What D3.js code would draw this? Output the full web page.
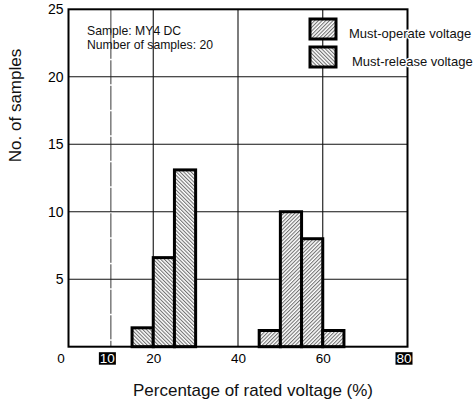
<!DOCTYPE html>
<html>
<head>
<meta charset="utf-8">
<script src="https://cdn.jsdelivr.net/npm/d3@7"></script>
<style>
  html, body { margin: 0; padding: 0; background: #fff; }
  svg { display: block; font-family: "Liberation Sans", Arial, Helvetica, sans-serif; }
</style>
</head>
<body>
<svg id="chart" width="475" height="399"></svg>
<script>
// ---- data ----
const binWidth = 5;
const releaseBins = [15, 20, 25];
const releaseCounts = [1.4, 6.6, 13.1];
const operateBins = [45, 50, 55, 60];
const operateCounts = [1.2, 10, 8, 1.2];
const xTicks = [0, 10, 20, 40, 60, 80];
const xBoxedTicks = [10, 80];
const yTicks = [5, 10, 15, 20, 25];
const xGrid = [10, 20, 40, 60];
const yGrid = [5, 10, 15, 20];
const legendLabels = ["Must-operate voltage", "Must-release voltage"];
const noteLines = ["Sample: MY4 DC", "Number of samples: 20"];
const xTitle = "Percentage of rated voltage (%)";
const yTitle = "No. of samples";

const svg = d3.select("#chart");
const L = 68.5, R = 407.5, T = 9.3, B = 346.7;
const x = d3.scaleLinear().domain([0, 80]).range([L, R]);
const y = d3.scaleLinear().domain([0, 25]).range([B, T]);

// patterns
const defs = svg.append("defs");
function hatch(id, angle) {
  const p = defs.append("pattern").attr("id", id)
    .attr("patternUnits", "userSpaceOnUse")
    .attr("width", 2.6).attr("height", 10)
    .attr("patternTransform", `rotate(${angle})`);
  p.append("rect").attr("width", 2.6).attr("height", 10).attr("fill", "#fff");
  p.append("line").attr("x1", 0.6).attr("x2", 0.6).attr("y1", 0).attr("y2", 10)
    .attr("stroke", "#333").attr("stroke-width", 0.8);
}
hatch("hOperate", 45);
hatch("hRelease", -45);

// grid
svg.append("g").selectAll("line").data(yGrid).join("line")
  .attr("x1", L).attr("x2", R).attr("y1", d => y(d)).attr("y2", d => y(d))
  .attr("stroke", "#111").attr("stroke-width", 1.1);
svg.append("g").selectAll("line").data(xGrid).join("line")
  .attr("x1", d => x(d)).attr("x2", d => x(d)).attr("y1", T).attr("y2", B)
  .attr("stroke", d => d === 10 ? "#222" : "#111")
  .attr("stroke-width", d => d === 10 ? 0.9 : 1.1)
  .attr("stroke-dasharray", d => d === 10 ? "24,1.5" : null);

// bars
function bars(bins, counts, fill) {
  svg.append("g").selectAll("rect").data(bins.map((b, i) => ({ b, v: counts[i] }))).join("rect")
    .attr("x", d => x(d.b)).attr("width", d => x(d.b + binWidth) - x(d.b))
    .attr("y", d => y(d.v)).attr("height", d => y(0) - y(d.v))
    .attr("fill", fill).attr("stroke", "#000").attr("stroke-width", 3);
}
bars(releaseBins, releaseCounts, "url(#hRelease)");
bars(operateBins, operateCounts, "url(#hOperate)");

// frame
svg.append("rect").attr("x", L).attr("y", T).attr("width", R - L).attr("height", B - T)
  .attr("fill", "none").attr("stroke", "#000").attr("stroke-width", 2);

// x axis labels
const xAxis = svg.append("g").attr("transform", `translate(0,${B})`)
  .call(d3.axisBottom(x).tickValues(xTicks).tickSize(0).tickPadding(7).tickFormat(d3.format("d")));
xAxis.select(".domain").remove();
xAxis.selectAll(".tick text").attr("font-size", 13.5).attr("fill", "#000")
  .attr("font-family", "Liberation Sans, Arial, sans-serif")
  .attr("dx", d => d === 0 ? -8 : d === 10 ? -4 : d === 80 ? -4 : 0);
xAxis.selectAll(".tick").each(function(d) {
  if (xBoxedTicks.includes(d)) {
    const g = d3.select(this);
    const t = g.select("text");
    const dx = +t.attr("dx") || 0;
    g.insert("rect", "text").attr("x", dx - 8.5).attr("y", 5.5).attr("width", 17).attr("height", 12.5).attr("fill", "#000");
    t.attr("fill", "#fff");
  }
});

// y axis labels
const yAxis = svg.append("g").attr("transform", `translate(${L},0)`)
  .call(d3.axisLeft(y).tickValues(yTicks).tickSize(0).tickPadding(5).tickFormat(d3.format("d")));
yAxis.select(".domain").remove();
yAxis.selectAll(".tick text").attr("font-size", 14).attr("fill", "#000")
  .attr("font-family", "Liberation Sans, Arial, sans-serif");

// note
svg.append("g").selectAll("text").data(noteLines).join("text")
  .attr("x", 87).attr("y", (d, i) => 35 + i * 14)
  .attr("font-size", 12.2).attr("fill", "#111").text(d => d);

// legend
const legend = svg.append("g");
const fills = ["url(#hOperate)", "url(#hRelease)"];
legend.selectAll("rect").data(legendLabels).join("rect")
  .attr("x", 310).attr("y", (d, i) => 19 + i * 28).attr("width", 26).attr("height", 20)
  .attr("fill", (d, i) => fills[i]).attr("stroke", "#000").attr("stroke-width", 3);
legend.selectAll("text").data(legendLabels).join("text")
  .attr("x", (d, i) => 349 + i * 3).attr("y", (d, i) => 37.5 + i * 28)
  .attr("font-size", 13).attr("fill", "#111")
  .attr("stroke", "#fff").attr("stroke-width", 2.5).attr("paint-order", "stroke")
  .text(d => d);

// titles
svg.append("text").attr("x", 253).attr("y", 396).attr("text-anchor", "middle")
  .attr("font-size", 17).attr("fill", "#111").text(xTitle);
svg.append("text").attr("transform", "translate(20.5,105.5) rotate(-90)").attr("text-anchor", "middle")
  .attr("font-size", 17).attr("fill", "#111").text(yTitle);
</script>
</body>
</html>
